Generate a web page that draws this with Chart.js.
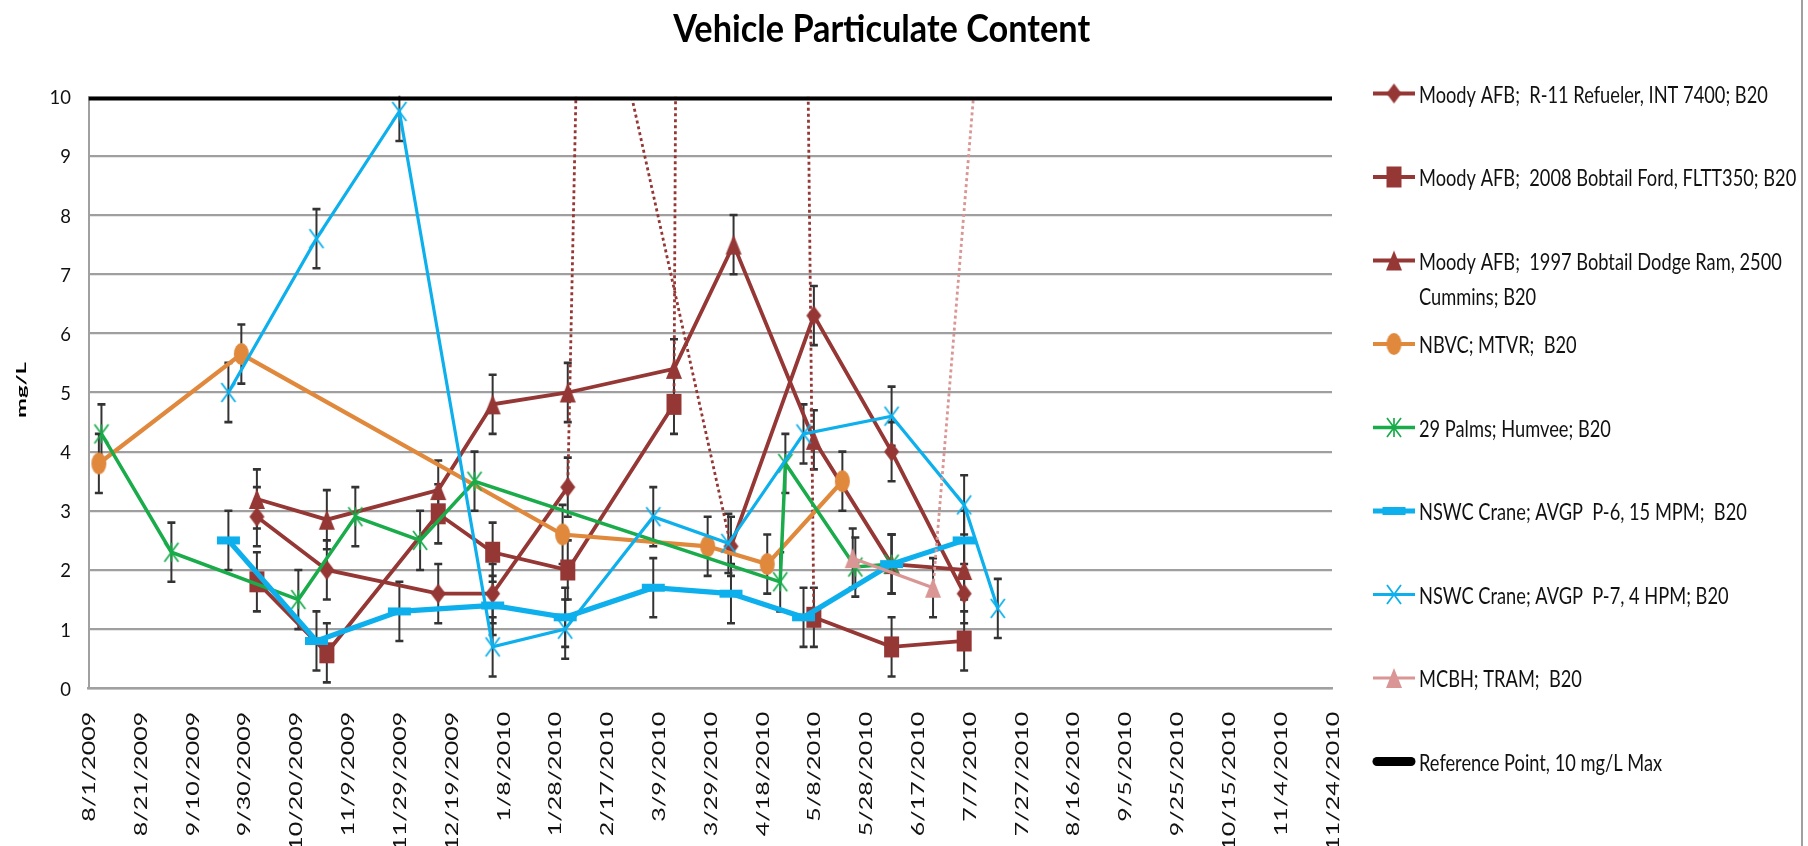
<!DOCTYPE html>
<html>
<head>
<meta charset="utf-8">
<script src="https://cdn.jsdelivr.net/npm/chart.js@4.4.1/dist/chart.umd.min.js"></script>
<style>
html,body{margin:0;padding:0;background:#fff;overflow:hidden}
#wrap{position:relative;width:1808px;height:846px}
</style>
</head>
<body>
<div id="wrap"><canvas id="c" width="1808" height="846"></canvas></div>
<script>
// ---------------- DATA ----------------
const chartTitle = 'Vehicle Particulate Content';
const yAxisTitle = 'mg/L';
const yTickLabels = ['0','1','2','3','4','5','6','7','8','9','10'];
const xTickLabels = ['8/1/2009','8/21/2009','9/10/2009','9/30/2009','10/20/2009','11/9/2009','11/29/2009',
  '12/19/2009','1/8/2010','1/28/2010','2/17/2010','3/9/2010','3/29/2010','4/18/2010','5/8/2010','5/28/2010',
  '6/17/2010','7/7/2010','7/27/2010','8/16/2010','9/5/2010','9/25/2010','10/15/2010','11/4/2010','11/24/2010'];
const errorHalfWidth = 0.5;

const refuelerLabel = 'Moody AFB;  R-11 Refueler, INT 7400; B20';
const refuelerDates = ['2009-10-05','2009-11-01','2009-12-14','2010-01-04','2010-02-02','2010-02-07','2010-04-06','2010-05-08','2010-06-07','2010-07-05'];
const refuelerValues = [2.9, 2.0, 1.6, 1.6, 3.4, 13.9, 2.4, 6.3, 4.0, 1.6];

const fordLabel = 'Moody AFB;  2008 Bobtail Ford, FLTT350; B20';
const fordDates = ['2009-10-05','2009-11-01','2009-12-14','2010-01-04','2010-02-02','2010-03-15','2010-04-01','2010-05-08','2010-06-07','2010-07-05'];
const fordValues = [1.8, 0.6, 2.95, 2.3, 2.0, 4.8, 150, 1.2, 0.7, 0.8];

const dodgeLabel = 'Moody AFB;  1997 Bobtail Dodge Ram, 2500 Cummins; B20';
const dodgeDates = ['2009-10-05','2009-11-01','2009-12-14','2010-01-04','2010-02-02','2010-03-15','2010-04-07','2010-05-08','2010-06-07','2010-07-05'];
const dodgeValues = [3.2, 2.85, 3.35, 4.8, 5.0, 5.4, 7.5, 4.2, 2.1, 2.0];

const nbvcLabel = 'NBVC; MTVR;  B20';
const nbvcDates = ['2009-08-05','2009-09-29','2010-01-31','2010-03-28','2010-04-20','2010-05-19'];
const nbvcValues = [3.8, 5.65, 2.6, 2.4, 2.1, 3.5];

const palmsLabel = '29 Palms; Humvee; B20';
const palmsDates = ['2009-08-06','2009-09-02','2009-10-21','2009-11-12','2009-12-07','2009-12-28','2010-04-25','2010-04-27','2010-05-24','2010-06-07'];
const palmsValues = [4.3, 2.3, 1.5, 2.9, 2.5, 3.5, 1.8, 3.8, 2.05, 2.1];

const p6Label = 'NSWC Crane; AVGP  P-6, 15 MPM;  B20';
const p6Dates = ['2009-09-24','2009-10-28','2009-11-29','2010-01-04','2010-02-01','2010-03-07','2010-04-06','2010-05-04','2010-06-07','2010-07-05'];
const p6Values = [2.5, 0.8, 1.3, 1.4, 1.2, 1.7, 1.6, 1.2, 2.1, 2.5];

const p7Label = 'NSWC Crane; AVGP  P-7, 4 HPM; B20';
const p7Dates = ['2009-09-24','2009-10-28','2009-11-29','2010-01-04','2010-02-01','2010-03-07','2010-04-05','2010-05-04','2010-06-07','2010-07-05','2010-07-18'];
const p7Values = [5.0, 7.6, 9.75, 0.7, 1.0, 2.9, 2.45, 4.3, 4.6, 3.1, 1.35];

const mcbhLabel = 'MCBH; TRAM;  B20';
const mcbhDates = ['2010-05-23','2010-06-23','2010-07-15'];
const mcbhValues = [2.2, 1.7, 13.4];

const referenceLabel = 'Reference Point, 10 mg/L Max';
const referenceDates = ['2009-08-01','2010-11-24'];
const referenceValues = [10, 10];

// ---------------- HELPERS ----------------
const EPOCH = Date.UTC(2009, 7, 1);
function dayOfIso(s){ const p = s.split('-').map(Number); return (Date.UTC(p[0], p[1]-1, p[2]) - EPOCH) / 86400000; }
function dayOfLabel(s){ const p = s.split('/').map(Number); return (Date.UTC(p[2], p[0]-1, p[1]) - EPOCH) / 86400000; }
function points(dates, values){ return dates.map((d, i) => ({x: dayOfIso(d), y: values[i]})); }

function makeMarker(kind, color, w, h, lw){
  const pad = 2;
  const c = document.createElement('canvas');
  c.width = Math.ceil(w + pad*2); c.height = Math.ceil(h + pad*2);
  const g = c.getContext('2d');
  g.translate(c.width/2, c.height/2);
  g.fillStyle = color; g.strokeStyle = color; g.lineWidth = lw || 1.6;
  const hw = w/2, hh = h/2;
  g.beginPath();
  if (kind === 'diamond'){ g.moveTo(0,-hh); g.lineTo(hw,0); g.lineTo(0,hh); g.lineTo(-hw,0); g.closePath(); g.fill(); }
  else if (kind === 'square' || kind === 'dash'){ g.rect(-hw,-hh,w,h); g.fill(); }
  else if (kind === 'triangle'){ g.moveTo(0,-hh); g.lineTo(hw,hh); g.lineTo(-hw,hh); g.closePath(); g.fill(); }
  else if (kind === 'circle'){ g.ellipse(0,0,hw,hh,0,0,Math.PI*2); g.fill(); }
  else if (kind === 'x' || kind === 'star'){
    g.moveTo(-hw,-hh); g.lineTo(hw,hh); g.moveTo(hw,-hh); g.lineTo(-hw,hh);
    if (kind === 'star'){ g.moveTo(0,-hh); g.lineTo(0,hh); }
    g.stroke();
  }
  return c;
}

const darkRed = '#953735', orange = '#E0893D', green = '#1AAB4B', cyan = '#0DB0EC', pink = '#D99694';

const seriesDefs = [
  {label: refuelerLabel, dates: refuelerDates, values: refuelerValues, color: darkRed, marker: makeMarker('diamond', darkRed, 15, 20), width: 3.8, err: true},
  {label: fordLabel, dates: fordDates, values: fordValues, color: darkRed, marker: makeMarker('square', darkRed, 15, 21), width: 3.8, err: true},
  {label: dodgeLabel, dates: dodgeDates, values: dodgeValues, color: darkRed, marker: makeMarker('triangle', darkRed, 16, 20), width: 3.8, err: true},
  {label: nbvcLabel, dates: nbvcDates, values: nbvcValues, color: orange, marker: makeMarker('circle', orange, 15, 22), width: 4.2, err: true},
  {label: palmsLabel, dates: palmsDates, values: palmsValues, color: green, marker: makeMarker('star', green, 14, 19, 1.7), width: 3.5, err: true},
  {label: p6Label, dates: p6Dates, values: p6Values, color: cyan, marker: makeMarker('dash', cyan, 23, 8), width: 5.2, err: true},
  {label: p7Label, dates: p7Dates, values: p7Values, color: cyan, marker: makeMarker('x', cyan, 14, 19, 1.8), width: 3.2, err: true},
  {label: mcbhLabel, dates: mcbhDates, values: mcbhValues, color: pink, marker: makeMarker('triangle', pink, 16, 20), width: 3.2, err: true},
  {label: referenceLabel, dates: referenceDates, values: referenceValues, color: '#000000', marker: null, width: 7.5, err: false}
];

const yMaxValue = Number(yTickLabels[yTickLabels.length-1]);

const datasets = seriesDefs.map((s, i) => ({
  label: s.label,
  data: points(s.dates, s.values),
  borderColor: s.color,
  backgroundColor: s.color,
  borderWidth: s.width,
  pointStyle: s.marker || 'circle',
  pointRadius: s.marker ? 8 : 0,
  pointHoverRadius: s.marker ? 8 : 0,
  tension: 0,
  order: seriesDefs.length - i,
  errorBars: s.err,
  legendMarker: s.marker,
  segment: s.err ? {
    borderDash: ctx => (ctx.p0.parsed.y > yMaxValue || ctx.p1.parsed.y > yMaxValue) ? [3, 3] : undefined,
    borderWidth: ctx => (ctx.p0.parsed.y > yMaxValue || ctx.p1.parsed.y > yMaxValue) ? 2.8 : undefined
  } : undefined
}));

// ---------------- TEXT FITTING ----------------
const fitCache = {};
function fitFont(ctx, key, weight, family, sample, width, cap){
  if (fitCache[key]) return fitCache[key];
  ctx.save();
  ctx.font = weight + ' 100px ' + family;
  const w = ctx.measureText(sample).width;
  const size = 100 * width / w;
  const font = weight + ' ' + size.toFixed(2) + 'px ' + family;
  ctx.font = font;
  const a = ctx.measureText('H').actualBoundingBoxAscent;
  ctx.restore();
  return fitCache[key] = {font: font, sy: cap / a};
}
function drawFit(ctx, f, text, x, y, align, rot, color){
  ctx.save();
  ctx.translate(x, y);
  if (rot) ctx.rotate(rot);
  ctx.scale(1, f.sy);
  ctx.font = f.font;
  ctx.textAlign = align;
  ctx.textBaseline = 'alphabetic';
  ctx.fillStyle = color || '#000';
  ctx.fillText(text, 0, 0);
  ctx.restore();
}

const FAMILY = 'Lato, "Open Sans", "DejaVu Sans", sans-serif';

const decorPlugin = {
  id: 'decor',
  beforeDatasetsDraw(chart){
    const ctx = chart.ctx, a = chart.chartArea, ys = chart.scales.y;
    ctx.save();
    ctx.beginPath();
    ctx.rect(a.left, a.top - 1, a.right - a.left, a.bottom - a.top + 2);
    ctx.clip();
    ctx.strokeStyle = '#333333';
    chart.data.datasets.forEach((ds, di) => {
      if (!ds.errorBars) return;
      const meta = chart.getDatasetMeta(di);
      meta.data.forEach((pt, i) => {
        const v = ds.data[i].y;
        const y1 = ys.getPixelForValue(v + errorHalfWidth);
        const y2 = ys.getPixelForValue(v - errorHalfWidth);
        ctx.lineWidth = 2;
        ctx.beginPath(); ctx.moveTo(pt.x, y1); ctx.lineTo(pt.x, y2); ctx.stroke();
        ctx.lineWidth = 2.6;
        ctx.beginPath();
        ctx.moveTo(pt.x - 4, y1); ctx.lineTo(pt.x + 4, y1);
        ctx.moveTo(pt.x - 4, y2); ctx.lineTo(pt.x + 4, y2);
        ctx.stroke();
      });
    });
    ctx.restore();
  },
  afterDraw(chart){
    const ctx = chart.ctx, xs = chart.scales.x, ys = chart.scales.y;
    // title
    const tf = fitFont(ctx, 'title', 'bold', FAMILY, chartTitle, 417, 28.3);
    drawFit(ctx, tf, chartTitle, 881.7, 41.7, 'center', 0, '#000');
    // y axis title
    const yt = fitFont(ctx, 'ytitle', 'bold', FAMILY, yAxisTitle, 56, 10);
    drawFit(ctx, yt, yAxisTitle, 25.5, 390, 'center', -Math.PI/2, '#000');
    // y tick labels
    const yf = fitFont(ctx, 'yticks', 'normal', FAMILY, '0', 10.7, 15);
    yTickLabels.forEach(l => {
      const py = ys.getPixelForValue(Number(l));
      drawFit(ctx, yf, l, 71, py + 7.5, 'right', 0, '#111');
    });
    // x tick labels
    const xf = fitFont(ctx, 'xticks', 'normal', FAMILY, '8/1/2009', 110, 13);
    xTickLabels.forEach(l => {
      const px = xs.getPixelForValue(dayOfLabel(l));
      drawFit(ctx, xf, l, px + 6.5, 711.7, 'right', -Math.PI/2, '#111');
    });
    // legend
    const lf = fitFont(ctx, 'legend', 'normal', FAMILY, refuelerLabel, 349, 17.7);
    const maxW = 385;
    chart.data.datasets.forEach((ds, i) => {
      const cy = 93.5 + i * 83.5;
      ctx.save();
      ctx.strokeStyle = ds.borderColor;
      ctx.lineWidth = ds.legendMarker ? ds.borderWidth : 9;
      ctx.lineCap = ds.legendMarker ? 'butt' : 'round';
      ctx.beginPath();
      ctx.moveTo(ds.legendMarker ? 1373 : 1377, cy);
      ctx.lineTo(ds.legendMarker ? 1415 : 1411, cy);
      ctx.stroke();
      if (ds.legendMarker){
        const m = ds.legendMarker;
        ctx.drawImage(m, 1394 - m.width/2, cy - m.height/2);
      }
      ctx.restore();
      ctx.save(); ctx.font = lf.font;
      const words = ds.label.split(' ');
      const lines = []; let cur = '';
      words.forEach(w => {
        const test = cur === '' ? w : cur + ' ' + w;
        if (cur !== '' && ctx.measureText(test).width > maxW){ lines.push(cur); cur = w; }
        else cur = test;
      });
      lines.push(cur);
      ctx.restore();
      lines.forEach((ln, k) => drawFit(ctx, lf, ln, 1419, cy + 9.4 + k * 35, 'left', 0, '#111'));
    });
    // right frame line
    ctx.save();
    ctx.strokeStyle = '#a0a0a0'; ctx.lineWidth = 2;
    ctx.beginPath(); ctx.moveTo(1802, 0); ctx.lineTo(1802, 846); ctx.stroke();
    ctx.restore();
  }
};

new Chart(document.getElementById('c'), {
  type: 'line',
  data: { datasets: datasets },
  options: {
    responsive: false,
    animation: false,
    devicePixelRatio: 1,
    events: [],
    layout: { padding: { left: 0, right: 1808 - 1332, top: 96.7, bottom: 0 } },
    plugins: { legend: { display: false }, title: { display: false }, tooltip: { enabled: false } },
    scales: {
      x: {
        type: 'linear',
        min: dayOfLabel(xTickLabels[0]),
        max: dayOfLabel(xTickLabels[xTickLabels.length - 1]),
        ticks: { display: false, stepSize: dayOfLabel(xTickLabels[1]) - dayOfLabel(xTickLabels[0]) },
        grid: { display: false },
        border: { display: true, color: '#a0a0a0', width: 2.5 },
        afterFit: s => { s.height = 846 - 688.3; }
      },
      y: {
        type: 'linear',
        min: Number(yTickLabels[0]),
        max: yMaxValue,
        ticks: { display: false, stepSize: 1 },
        grid: { color: '#9f9f9f', lineWidth: 2.2, drawTicks: false },
        border: { display: true, color: '#a0a0a0', width: 2 },
        afterFit: s => { s.width = 88.5; }
      }
    }
  },
  plugins: [decorPlugin]
});
</script>
</body>
</html>
